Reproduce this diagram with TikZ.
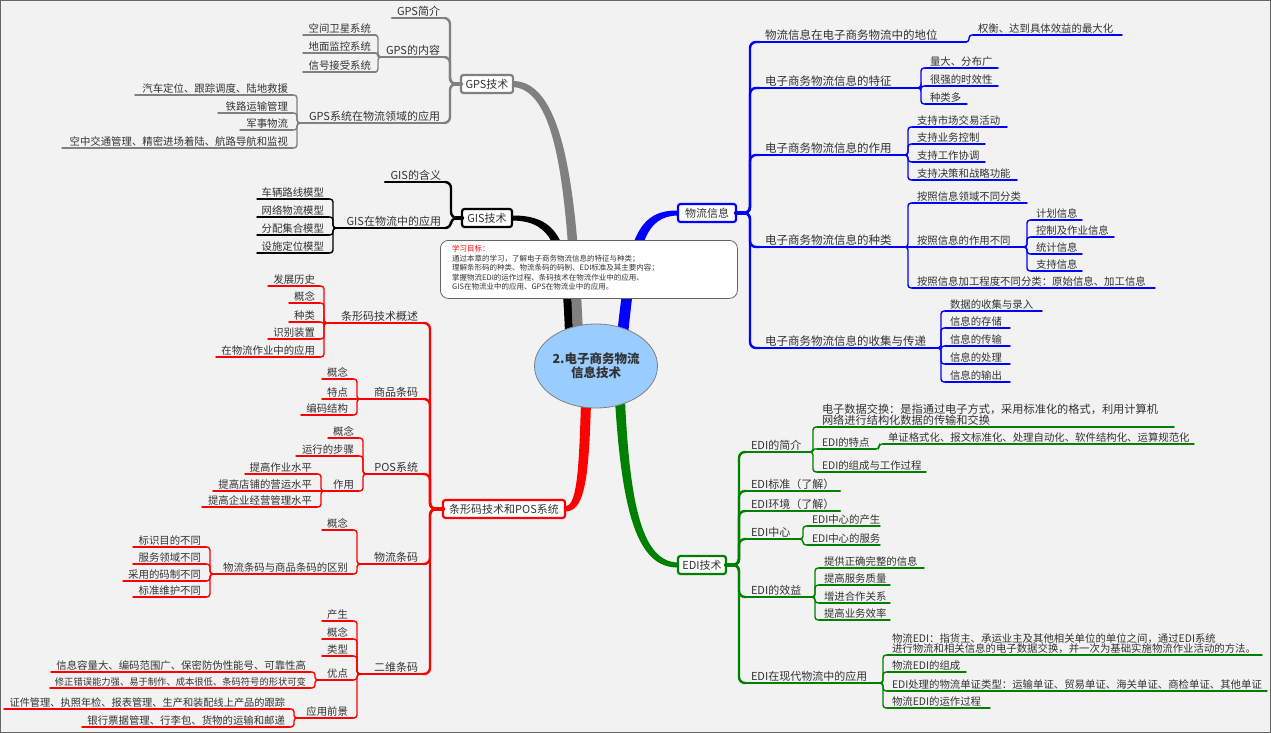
\documentclass[tikz,border=0pt]{standalone}
\usepackage{fontspec}
\setmainfont{Noto Sans CJK SC}
\usetikzlibrary{shapes.geometric}
\definecolor{txt}{HTML}{333333}
\definecolor{gpsc}{HTML}{808080}
\definecolor{bluec}{HTML}{0000FF}
\definecolor{redc}{HTML}{FF0000}
\definecolor{greenc}{HTML}{008000}
\definecolor{cblue}{HTML}{99CCFF}
\definecolor{bgc}{HTML}{F2F2F2}
\pgfdeclarelayer{bg}
\pgfsetlayers{bg,main}
% right-hand item: [style]{name}{x0}{x1}{y}{line style}{text}
\newcommand\mmR[7][leaf]{%
  \pgfmathsetmacro\mmw{#4-#3-10}%
  \node[#1, anchor=south west] (#2) at (#3,#5) {\hbox to \mmw pt{#7\hss}};%
  \draw[#6] (#2.south west) -- (#2.south east);%
}
% left-hand item
\newcommand\mmL[7][leaf]{%
  \pgfmathsetmacro\mmw{#4-#3-10}%
  \node[#1, anchor=south east] (#2) at (#4,#5) {\hbox to \mmw pt{\hss #7}};%
  \draw[#6] (#2.south west) -- (#2.south east);%
}
\newcommand\conR[3]{\draw[#1] (#2.south east) -- ++(3,0) |- (#3.south west);}
\newcommand\conL[3]{\draw[#1] (#2.south west) -- ++(-3,0) |- (#3.south east);}
\tikzset{
 leaf/.style={inner xsep=5pt, inner ysep=1pt, outer sep=0pt, text height=9pt, text depth=1.5pt, font=\fontsize{10.4}{12}\selectfont, text=txt},
 mid/.style={leaf, font=\fontsize{11}{13}\selectfont},
 midb/.style={leaf, font=\fontsize{11.5}{13}\selectfont},
 leafS/.style={leaf, font=\fontsize{9.3}{11}\selectfont},
 leafM/.style={leaf, font=\fontsize{10.2}{12}\selectfont},
 leafB/.style={leaf, font=\fontsize{11.2}{13}\selectfont},
 lineL/.style={line width=1.4pt, line cap=round, rounded corners=3pt},
 lineM/.style={line width=2.4pt, line cap=round, rounded corners=6pt},
 grL/.style={lineL, draw=gpsc}, grM/.style={lineM, draw=gpsc},
 bkL/.style={lineL, draw=black}, bkM/.style={lineM, draw=black},
 blL/.style={lineL, draw=bluec}, blM/.style={lineM, draw=bluec},
 rdL/.style={lineL, draw=redc}, rdM/.style={lineM, draw=redc},
 gnL/.style={lineL, draw=greenc}, gnM/.style={lineM, draw=greenc},
 stub/.style={line width=4.5pt, line cap=round},
 box/.style={draw, fill=white, rounded corners=2.5pt, line width=2.2pt, outer sep=0pt, inner sep=2pt, minimum height=18pt, font=\fontsize{11}{13}\selectfont, text=txt},
}
\begin{document}
\begin{tikzpicture}[x=1pt,y=-1pt]
\useasboundingbox (0,0) rectangle (1271,733);
\begin{pgfonlayer}{bg}
\fill[bgc] (0,0) rectangle (1271,733);
\draw[gray!80!black, line width=1pt] (0.5,0.5) rectangle (1270.5,732.5);
\end{pgfonlayer}

% ---------- centre and main boxes ----------
\node[box, draw=gpsc, minimum width=52pt] (gps) at (487,84) {GPS技术};
\node[box, draw=black, minimum width=50pt] (gis) at (487,218) {GIS技术};
\node[box, draw=bluec, minimum width=58pt] (wl) at (707,213) {物流信息};
\node[box, draw=redc, minimum width=122pt] (tx) at (504,509) {条形码技术和POS系统};
\node[box, draw=greenc, minimum width=48pt] (edi) at (702,565) {EDI技术};

% ---------- learning goals ----------
\node[draw=gray!80!black, fill=white, rounded corners=8pt, line width=0.8pt, minimum width=297pt, minimum height=58pt, anchor=north west, inner sep=0pt] (goal) at (440,240) {};
\node[anchor=north west, align=left, inner sep=0pt, font=\fontsize{7.5}{9.5}\selectfont, text=txt] (goaltxt) at (452,245)
 {\textcolor{redc}{学习目标：}\\通过本章的学习，了解电子商务物流信息的特征与种类；\\理解条形码的种类、物流条码的码制、EDI标准及其主要内容；\\掌握物流EDI的运作过程、条码技术在物流作业中的应用、\\GIS在物流业中的应用、GPS在物流业中的应用。};

\node[ellipse, draw=gpsc, line width=0.8pt, fill=cblue, minimum width=122pt, minimum height=84pt, inner sep=0pt, align=center, font=\fontsize{12.5}{14}\selectfont\bfseries, text=txt] (c) at (596,366) {2.电子商务物流\\信息技术};

% ---------- blue: 物流信息 ----------
\mmR[midb]{B1}{760}{966}{42}{blM}{物流信息在电子商务物流中的地位}
\mmR{B1a}{973}{1122}{35}{blL}{权衡、达到具体效益的最大化}
\mmR[midb]{B2}{760}{918}{88}{blM}{电子商务物流信息的特征}
\mmR{B2a}{925}{998}{68}{blL}{量大、分布广}
\mmR{B2b}{925}{998}{86}{blL}{很强的时效性}
\mmR{B2c}{925}{967}{104}{blL}{种类多}
\mmR[midb]{B3}{760}{905}{155}{blM}{电子商务物流信息的作用}
\mmR{B3a}{912}{1007}{127}{blL}{支持市场交易活动}
\mmR{B3b}{912}{985}{144}{blL}{支持业务控制}
\mmR{B3c}{912}{985}{162}{blL}{支持工作协调}
\mmR{B3d}{912}{1017}{180}{blL}{支持决策和战略功能}
\mmR[midb]{B4}{760}{905}{247}{blM}{电子商务物流信息的种类}
\mmR{B4a}{912}{1027}{203}{blL}{按照信息领域不同分类}
\mmR{B4b}{912}{1024}{247}{blL}{按照信息的作用不同}
\mmR{B4b1}{1031}{1082}{220}{blL}{计划信息}
\mmR{B4b2}{1031}{1114}{237}{blL}{控制及作业信息}
\mmR{B4b3}{1031}{1082}{254}{blL}{统计信息}
\mmR{B4b4}{1031}{1082}{271}{blL}{支持信息}
\mmR{B4c}{912}{1155}{288}{blL}{按照信息加工程度不同分类：原始信息、加工信息}
\mmR[midb]{B5}{760}{938}{348}{blM}{电子商务物流信息的收集与传递}
\mmR{B5a}{945}{1042}{311}{blL}{数据的收集与录入}
\mmR{B5b}{945}{1010}{328}{blL}{信息的存储}
\mmR{B5c}{945}{1010}{346}{blL}{信息的传输}
\mmR{B5d}{945}{1010}{364}{blL}{信息的处理}
\mmR{B5e}{945}{1010}{382}{blL}{信息的输出}
\draw[bluec, stub] (wl.east) -- ++(9,0);
\foreach \n in {B1,B2,B3,B4,B5} {\draw[blM] (wl.east) -- ++(14,0) |- (\n.south west);}
\conR{blL}{B1}{B1a}
\foreach \n in {B2a,B2b,B2c} {\conR{blL}{B2}{\n}}
\foreach \n in {B3a,B3b,B3c,B3d} {\conR{blL}{B3}{\n}}
\foreach \n in {B4a,B4c} {\conR{blL}{B4}{\n}}
\draw[blL] (B4.south east) -- (B4b.south west);
\foreach \n in {B4b1,B4b2,B4b3,B4b4} {\conR{blL}{B4b}{\n}}
\foreach \n in {B5a,B5b,B5c,B5d,B5e} {\conR{blL}{B5}{\n}}

% ---------- green: EDI技术 ----------
\mmR[mid]{G1}{746}{810}{452}{gnM}{EDI的简介}
\mmR[leafB]{G1a}{817}{1174}{427}{gnL}{\vbox{\baselineskip=11pt\hbox{电子数据交换：是指通过电子方式，采用标准化的格式，利用计算机}\hbox{网络进行结构化数据的传输和交换}}}
\mmR{G1b}{817}{876}{449}{gnL}{EDI的特点}
\mmR{G1b1}{883}{1194}{444}{gnL}{单证格式化、报文标准化、处理自动化、软件结构化、运算规范化}
\mmR{G1c}{817}{926}{472}{gnL}{EDI的组成与工作过程}
\mmR[mid]{G2}{746}{840}{491}{gnM}{EDI标准（了解）}
\mmR[mid]{G3}{746}{840}{511}{gnM}{EDI环境（了解）}
\mmR[mid]{G4}{746}{800}{539}{gnM}{EDI中心}
\mmR{G4a}{807}{880}{526}{gnL}{EDI中心的产生}
\mmR{G4b}{807}{880}{545}{gnL}{EDI中心的服务}
\mmR[mid]{G5}{746}{812}{597}{gnM}{EDI的效益}
\mmR{G5a}{819}{924}{568}{gnL}{提供正确完整的信息}
\mmR{G5b}{819}{890}{585}{gnL}{提高服务质量}
\mmR{G5c}{819}{890}{603}{gnL}{增进合作关系}
\mmR{G5d}{819}{890}{620}{gnL}{提高业务效率}
\mmR[mid]{G6}{746}{880}{683}{gnM}{EDI在现代物流中的应用}
\mmR{G6a}{887}{1262}{655}{gnL}{\vbox{\baselineskip=10.5pt\hbox{物流EDI：指货主、承运业主及其他相关单位的单位之间，通过EDI系统}\hbox{进行物流和相关信息的电子数据交换，并一次为基础实施物流作业活动的方法。}}}
\mmR{G6b}{887}{966}{672}{gnL}{物流EDI的组成}
\mmR{G6c}{887}{1267}{691}{gnL}{EDI处理的物流单证类型：运输单证、贸易单证、海关单证、商检单证、其他单证}
\mmR{G6d}{887}{990}{708}{gnL}{物流EDI的运作过程}
\draw[greenc, stub] (edi.east) -- ++(8,0);
\foreach \n in {G1,G2,G3,G4,G5,G6} {\draw[gnM] (edi.east) -- ++(13,0) |- (\n.south west);}
\foreach \n in {G1a,G1c} {\conR{gnL}{G1}{\n}}
\conR{gnL,rounded corners=1.5pt}{G1}{G1b}
\conR{gnL}{G1b}{G1b1}
\foreach \n in {G4a,G4b} {\conR{gnL}{G4}{\n}}
\foreach \n in {G5a,G5b,G5c,G5d} {\conR{gnL}{G5}{\n}}
\foreach \n in {G6a,G6b,G6c,G6d} {\conR{gnL}{G6}{\n}}

% ---------- gray: GPS技术 ----------
\mmL[mid]{P1}{392}{445}{18}{grM}{GPS简介}
\mmL[mid]{P2}{381}{445}{57}{grM}{GPS的内容}
\mmL{P2a}{303}{376}{35}{grL}{空间卫星系统}
\mmL{P2b}{303}{376}{53}{grL}{地面监控系统}
\mmL{P2c}{303}{376}{72}{grL}{信号接受系统}
\mmL[mid]{P3}{300}{445}{123}{grM}{GPS系统在物流领域的应用}
\mmL{P3a}{135}{293}{95}{grL}{汽车定位、跟踪调度、陆地救援}
\mmL{P3b}{218}{293}{113}{grL}{铁路运输管理}
\mmL{P3c}{240}{293}{130}{grL}{军事物流}
\mmL{P3d}{62}{293}{148}{grL}{空中交通管理、精密进场着陆、航路导航和监视}
\draw[gpsc, stub] (gps.west) -- ++(-7,0);
\foreach \n in {P1,P2,P3} {\draw[grM] (gps.west) -- ++(-11,0) |- (\n.south east);}
\foreach \n in {P2a,P2b,P2c} {\conL{grL}{P2}{\n}}
\foreach \n in {P3a,P3b,P3c,P3d} {\conL{grL}{P3}{\n}}

% ---------- black: GIS技术 ----------
\mmL[mid]{S1}{385}{446}{182}{bkM}{GIS的含义}
\mmL[mid]{S2}{336}{446}{228}{bkM}{GIS在物流中的应用}
\mmL{S2a}{257}{329}{199}{bkL}{车辆路线模型}
\mmL{S2b}{257}{329}{217}{bkL}{网络物流模型}
\mmL{S2c}{257}{329}{235}{bkL}{分配集合模型}
\mmL{S2d}{257}{329}{253}{bkL}{设施定位模型}
\draw[black, stub] (gis.west) -- ++(-7,0);
\foreach \n in {S1,S2} {\draw[bkM] (gis.west) -- ++(-11,0) |- (\n.south east);}
\foreach \n in {S2a,S2b,S2c,S2d} {\conL{bkL}{S2}{\n}}

% ---------- red: 条形码技术和POS系统 ----------
\mmL[mid]{R1}{327}{423}{323}{rdM}{条形码技术概述}
\mmL{R1a}{268}{320}{286}{rdL}{发展历史}
\mmL{R1b}{289}{320}{303}{rdL}{概念}
\mmL{R1c}{289}{320}{322}{rdL}{种类}
\mmL{R1d}{268}{320}{339}{rdL}{识别装置}
\mmL{R1e}{216}{320}{357}{rdL}{在物流作业中的应用}
\mmL[mid]{R2}{360}{423}{399}{rdM}{商品条码}
\mmL{R2a}{322}{353}{379}{rdL}{概念}
\mmL{R2b}{322}{353}{399}{rdL}{特点}
\mmL{R2c}{301}{353}{415}{rdL}{编码结构}
\mmL[mid]{R3}{366}{423}{474}{rdM}{POS系统}
\mmL{R3a}{328}{359}{438}{rdL}{概念}
\mmL{R3b}{296}{359}{456}{rdL}{运行的步骤}
\mmL{R3c}{324}{359}{491}{rdL}{作用}
\mmL{R3c1}{245}{317}{474}{rdL}{提高作业水平}
\mmL{R3c2}{213}{317}{491}{rdL}{提高店铺的营运水平}
\mmL{R3c3}{202}{317}{507}{rdL}{提高企业经营管理水平}
\mmL[mid]{R4}{360}{423}{564}{rdM}{物流条码}
\mmL{R4a}{322}{353}{530}{rdL}{概念}
\mmL{R4b}{213}{353}{574}{rdL}{物流条码与商品条码的区别}
\mmL{R4b1}{133}{206}{547}{rdL}{标识目的不同}
\mmL{R4b2}{133}{206}{564}{rdL}{服务领域不同}
\mmL{R4b3}{123}{206}{581}{rdL}{采用的码制不同}
\mmL{R4b4}{133}{206}{597}{rdL}{标准维护不同}
\mmL[mid]{R5}{360}{423}{674}{rdM}{二维条码}
\mmL{R5a}{322}{353}{621}{rdL}{产生}
\mmL{R5b}{322}{353}{639}{rdL}{概念}
\mmL{R5c}{322}{353}{656}{rdL}{类型}
\mmL{R5d}{318}{353}{680}{rdL}{优点}
\mmL{R5d1}{51}{311}{672}{rdL}{信息容量大、编码范围广、保密防伪性能号、可靠性高}
\mmL[leafS]{R5d2}{50}{311}{688}{rdL}{修正错误能力强、易于制作、成本很低、条码符号的形状可变}
\mmL{R5e}{297}{353}{718}{rdL}{应用前景}
\mmL[leafM]{R5e1}{4}{290}{709}{rdL}{证件管理、执照年检、报表管理、生产和装配线上产品的跟踪}
\mmL{R5e2}{82}{290}{727}{rdL}{银行票据管理、行李包、货物的运输和邮递}
\draw[redc, stub] (tx.west) -- ++(-9,0);
\foreach \n in {R1,R2,R3,R4,R5} {\draw[rdM] (tx.west) -- ++(-13,0) |- (\n.south east);}
\foreach \n in {R1a,R1b,R1c,R1d,R1e} {\conL{rdL}{R1}{\n}}
\foreach \n in {R2a,R2c} {\conL{rdL}{R2}{\n}}
\draw[rdL] (R2.south west) -- (R2b.south east);
\foreach \n in {R3a,R3b,R3c} {\conL{rdL}{R3}{\n}}
\foreach \n in {R3c1,R3c3} {\conL{rdL}{R3c}{\n}}
\draw[rdL] (R3c.south west) -- (R3c2.south east);
\foreach \n in {R4a,R4b} {\conL{rdL}{R4}{\n}}
\foreach \n in {R4b1,R4b2,R4b3,R4b4} {\conL{rdL}{R4b}{\n}}
\foreach \n in {R5a,R5b,R5c,R5d,R5e} {\conL{rdL}{R5}{\n}}
\foreach \n in {R5d1,R5d2} {\conL{rdL}{R5d}{\n}}
\foreach \n in {R5e1,R5e2} {\conL{rdL}{R5e}{\n}}

% ---------- main tapered branches (behind) ----------
\begin{pgfonlayer}{bg}
\fill[black] ([xshift=-31pt,yshift=-10pt]c.north) .. controls (562,250) and (555,221) .. ([yshift=-2.5pt]gis.east)
  -- ([yshift=2.5pt]gis.east) .. controls (563,215) and (571,248) .. ([xshift=-23pt,yshift=-10pt]c.north) -- cycle;
\fill[gpsc] ([xshift=-23pt,yshift=-10pt]c.north) .. controls (567,200) and (559,90) .. ([yshift=-3pt]gps.east)
  -- ([yshift=3pt]gps.east) .. controls (566,81) and (577,200) .. ([xshift=-13pt,yshift=-10pt]c.north) -- cycle;
\fill[bluec] ([xshift=21pt,yshift=-12pt]c.north) .. controls (627,238) and (638,210) .. ([yshift=2.5pt]wl.west)
  -- ([yshift=-2.5pt]wl.west) .. controls (646,216) and (637,242) .. ([xshift=32pt,yshift=-12pt]c.north) -- cycle;
\fill[redc] ([xshift=-5pt,yshift=8pt]c.south) .. controls (589,482) and (584,512) .. ([yshift=-2.5pt]tx.east)
  -- ([yshift=2.5pt]tx.east) .. controls (576,506) and (579,478) .. ([xshift=-15pt,yshift=8pt]c.south) -- cycle;
\fill[greenc] ([xshift=29pt,yshift=8pt]c.south) .. controls (630,508) and (643,562) .. ([yshift=2.5pt]edi.west)
  -- ([yshift=-2.5pt]edi.west) .. controls (637,568) and (622,512) .. ([xshift=19pt,yshift=8pt]c.south) -- cycle;
\end{pgfonlayer}
\end{tikzpicture}
\end{document}
